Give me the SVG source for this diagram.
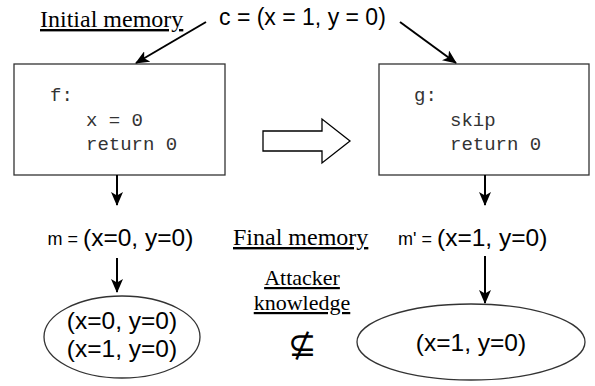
<svg xmlns="http://www.w3.org/2000/svg" width="595" height="386" viewBox="0 0 595 386">
<defs>
<style>
.serif{font-family:"Liberation Serif","Times New Roman",serif;font-size:22px;fill:#000;text-decoration:underline}
.big{font-size:24px}
.sans{font-family:"Liberation Sans",Arial,sans-serif;fill:#000}
.mono{font-family:"Liberation Mono","Courier New",monospace;font-size:19px;fill:#333}
.box{fill:#fff;stroke:#333;stroke-width:1.3}
.edge{stroke:#000;stroke-width:2;fill:none;marker-end:url(#ah)}
</style>
<marker id="ah" markerUnits="userSpaceOnUse" markerWidth="14" markerHeight="12" refX="13" refY="6" orient="auto" viewBox="0 0 14 12">
<path d="M0,0 L14,6 L0,12 L3.5,6 z" fill="#000"/>
</marker>
</defs>
<rect width="595" height="386" fill="#fff"/>

<g id="label-initial"><text class="serif big" x="40" y="27">Initial memory</text></g>
<g id="label-c"><text class="sans" x="219" y="25" font-size="23">c = (x = 1, y = 0)</text></g>

<g id="node-f">
<rect class="box" x="14" y="64" width="211" height="111"/>
<text class="mono" x="50" y="101">f:</text>
<text class="mono" x="86" y="126">x = 0</text>
<text class="mono" x="86" y="150">return 0</text>
</g>

<g id="node-g">
<rect class="box" x="379" y="64" width="210" height="111"/>
<text class="mono" x="414" y="101">g:</text>
<text class="mono" x="450" y="126">skip</text>
<text class="mono" x="450" y="150">return 0</text>
</g>

<g id="transform-arrow">
<polygon points="263,131 322,131 322,119 350,141 322,163 322,151 263,151" fill="#fff" stroke="#000" stroke-width="1.3"/>
</g>

<g id="node-m">
<text class="sans" x="78" y="245" font-size="18" text-anchor="end">m =</text>
<text class="sans" x="83" y="246" font-size="24.5">(x=0, y=0)</text>
</g>
<g id="node-m2">
<text class="sans" x="432" y="245" font-size="18" text-anchor="end">m' =</text>
<text class="sans" x="437" y="246" font-size="24.5">(x=1, y=0)</text>
</g>

<g id="label-final"><text class="serif big" x="233" y="245">Final memory</text></g>
<g id="label-attacker">
<text class="serif" x="302" y="285" text-anchor="middle">Attacker</text>
<text class="serif" x="302" y="310" text-anchor="middle">knowledge</text>
<text class="sans" x="302" y="356" font-size="34" text-anchor="middle">⊈</text>
</g>

<g id="node-k1">
<ellipse class="box" cx="122" cy="337" rx="78" ry="41"/>
<text class="sans" x="122" y="329" font-size="24.5" text-anchor="middle">(x=0, y=0)</text>
<text class="sans" x="122" y="357" font-size="24.5" text-anchor="middle">(x=1, y=0)</text>
</g>
<g id="node-k2">
<ellipse class="box" cx="471" cy="342" rx="114" ry="38"/>
<text class="sans" x="471" y="351" font-size="24.5" text-anchor="middle">(x=1, y=0)</text>
</g>

<g id="connectors">
<line class="edge" x1="206" y1="22" x2="136" y2="63"/>
<line class="edge" x1="400" y1="22" x2="456" y2="63"/>
<line class="edge" x1="117" y1="175" x2="117" y2="205"/>
<line class="edge" x1="485" y1="175" x2="485" y2="205"/>
<line class="edge" x1="117" y1="258" x2="117" y2="292"/>
<line class="edge" x1="485" y1="256" x2="485" y2="303"/>
</g>
</svg>
